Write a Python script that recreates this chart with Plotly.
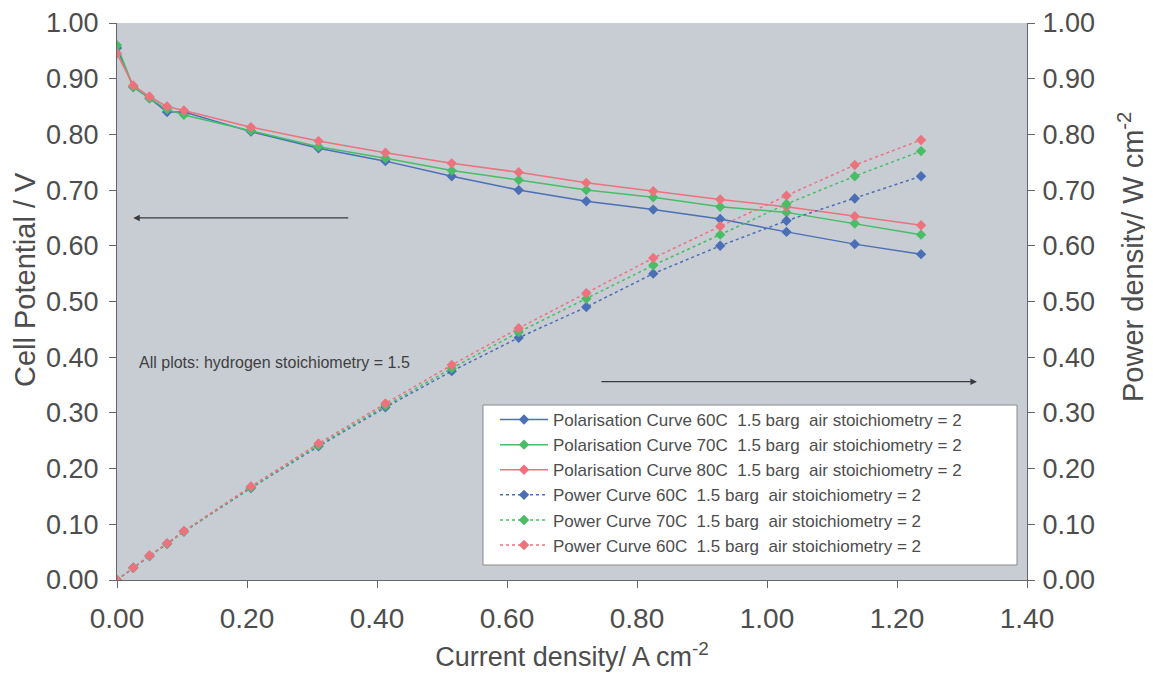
import plotly.graph_objects as go

current = [0.0, 0.025, 0.05, 0.077, 0.103, 0.206, 0.31, 0.413, 0.515, 0.618, 0.722, 0.825, 0.928, 1.03, 1.135, 1.237]

pol_60 = [0.955, 0.885, 0.865, 0.840, 0.840, 0.805, 0.775, 0.752, 0.725, 0.700, 0.680, 0.665, 0.648, 0.625, 0.603, 0.585]
pol_70 = [0.960, 0.885, 0.865, 0.845, 0.835, 0.807, 0.778, 0.757, 0.735, 0.718, 0.700, 0.687, 0.670, 0.660, 0.640, 0.620]
pol_80 = [0.945, 0.888, 0.868, 0.850, 0.843, 0.813, 0.788, 0.767, 0.748, 0.732, 0.713, 0.698, 0.683, 0.670, 0.653, 0.637]

pow_60 = [0.0, 0.022, 0.043, 0.065, 0.087, 0.165, 0.240, 0.310, 0.375, 0.435, 0.490, 0.550, 0.600, 0.645, 0.685, 0.725]
pow_70 = [0.0, 0.022, 0.043, 0.065, 0.087, 0.166, 0.242, 0.313, 0.380, 0.445, 0.505, 0.565, 0.620, 0.675, 0.725, 0.770]
pow_80 = [0.0, 0.022, 0.044, 0.066, 0.088, 0.168, 0.245, 0.317, 0.386, 0.452, 0.515, 0.578, 0.635, 0.690, 0.745, 0.790]

ticks = [round(0.1 * i, 2) for i in range(11)]
xticks = [round(0.2 * i, 2) for i in range(8)]

blue = "#4a6fb5"
green = "#48bd66"
red = "#ec727d"

fig = go.Figure()
series = [
    ("Polarisation Curve 60C  1.5 barg  air stoichiometry = 2", pol_60, blue, "solid", "y"),
    ("Polarisation Curve 70C  1.5 barg  air stoichiometry = 2", pol_70, green, "solid", "y"),
    ("Polarisation Curve 80C  1.5 barg  air stoichiometry = 2", pol_80, red, "solid", "y"),
    ("Power Curve 60C  1.5 barg  air stoichiometry = 2", pow_60, blue, "dot", "y2"),
    ("Power Curve 70C  1.5 barg  air stoichiometry = 2", pow_70, green, "dot", "y2"),
    ("Power Curve 60C  1.5 barg  air stoichiometry = 2", pow_80, red, "dot", "y2"),
]
for i, (name, vals, col, dash, ax) in enumerate(series):
    fig.add_trace(go.Scatter(
        x=current, y=vals, name=name, yaxis=ax, mode="lines+markers",
        line=dict(color=col, width=1.5, dash=dash),
        marker=dict(symbol="diamond", size=8, color=col),
    ))

font_col = "#4d4d4d"
axis_col = "#666666"
common = dict(showgrid=False, zeroline=False, showline=True, linecolor=axis_col,
              ticks="outside", ticklen=7, tickcolor=axis_col, automargin=False,
              ticklabeloverflow="allow")

# plot area in page pixels (page is offset 8px by the body margin)
P_L, P_R, P_T, P_B = 117, 1027, 23, 580
P_H = P_B - P_T
P_W = P_R - P_L

fig.update_layout(
    width=1145, height=667,
    margin=dict(l=P_L - 8, r=1145 - (P_R - 8), t=P_T - 8, b=667 - (P_B - 8)),
    paper_bgcolor="white",
    plot_bgcolor="#c8cdd4",
    font=dict(family="Arial, Liberation Sans, sans-serif", color=font_col, size=18),
    showlegend=True,
    legend=dict(
        x=(495 - P_L) / P_W, y=(P_B - 402) / P_H, xanchor="left", yanchor="top",
        bgcolor="rgba(0,0,0,0)", borderwidth=0,
        font=dict(size=17, color=font_col), tracegroupgap=0, itemwidth=48,
    ),
    xaxis=dict(
        range=[0, 1.4], tickvals=xticks, ticktext=[f"{v:.2f}" for v in xticks],
        title=dict(text="Current density/ A cm<sup>-2</sup>", font=dict(size=27), standoff=14),
        tickfont=dict(size=28), ticklabelstandoff=6, **common,
    ),
    yaxis=dict(
        range=[0, 1.0], tickvals=ticks, ticktext=[f"{v:.2f}" for v in ticks],
        tickfont=dict(size=27), ticklabelstandoff=5, **common,
    ),
    yaxis2=dict(
        range=[0, 1.0], tickvals=ticks, ticktext=[f"{v:.2f}" for v in ticks],
        overlaying="y", side="right",
        tickfont=dict(size=27), ticklabelstandoff=2, **common,
    ),
)

# y-axis titles
fig.add_annotation(x=(25 - P_L) / P_W, y=(P_B - 280) / P_H, xref="paper", yref="paper",
                   text="Cell Potential / V", textangle=-90, showarrow=False,
                   xanchor="center", yanchor="middle", font=dict(size=29, color=font_col))
fig.add_annotation(x=(1131 - P_L) / P_W, y=(P_B - 257) / P_H, xref="paper", yref="paper",
                   text="Power density/ W cm<sup>-2</sup>", textangle=-90, showarrow=False,
                   xanchor="center", yanchor="middle", font=dict(size=29, color=font_col))

# legend box
fig.add_shape(type="rect", xref="paper", yref="paper",
              x0=(483 - P_L) / P_W, x1=(1017 - P_L) / P_W,
              y0=(P_B - 565) / P_H, y1=(P_B - 405) / P_H,
              fillcolor="white", line=dict(color="#8a8a8a", width=1), layer="above")

fig.add_annotation(x=0.025, y=0.65, ax=0.358, ay=0.65, xref="x", yref="y", axref="x", ayref="y",
                   showarrow=True, arrowhead=2, arrowsize=1, arrowwidth=1.3, arrowcolor="#3a3a3a", text="")
fig.add_annotation(x=1.323, y=0.356, ax=0.743, ay=0.356, xref="x", yref="y", axref="x", ayref="y",
                   showarrow=True, arrowhead=2, arrowsize=1, arrowwidth=1.3, arrowcolor="#3a3a3a", text="")
fig.add_annotation(x=0.031, y=0.391, xref="x", yref="y", xanchor="left", yanchor="middle",
                   text="All plots: hydrogen stoichiometry = 1.5", showarrow=False,
                   font=dict(size=16, color="#3f3f3f"))

fig.write_html("out.html")
